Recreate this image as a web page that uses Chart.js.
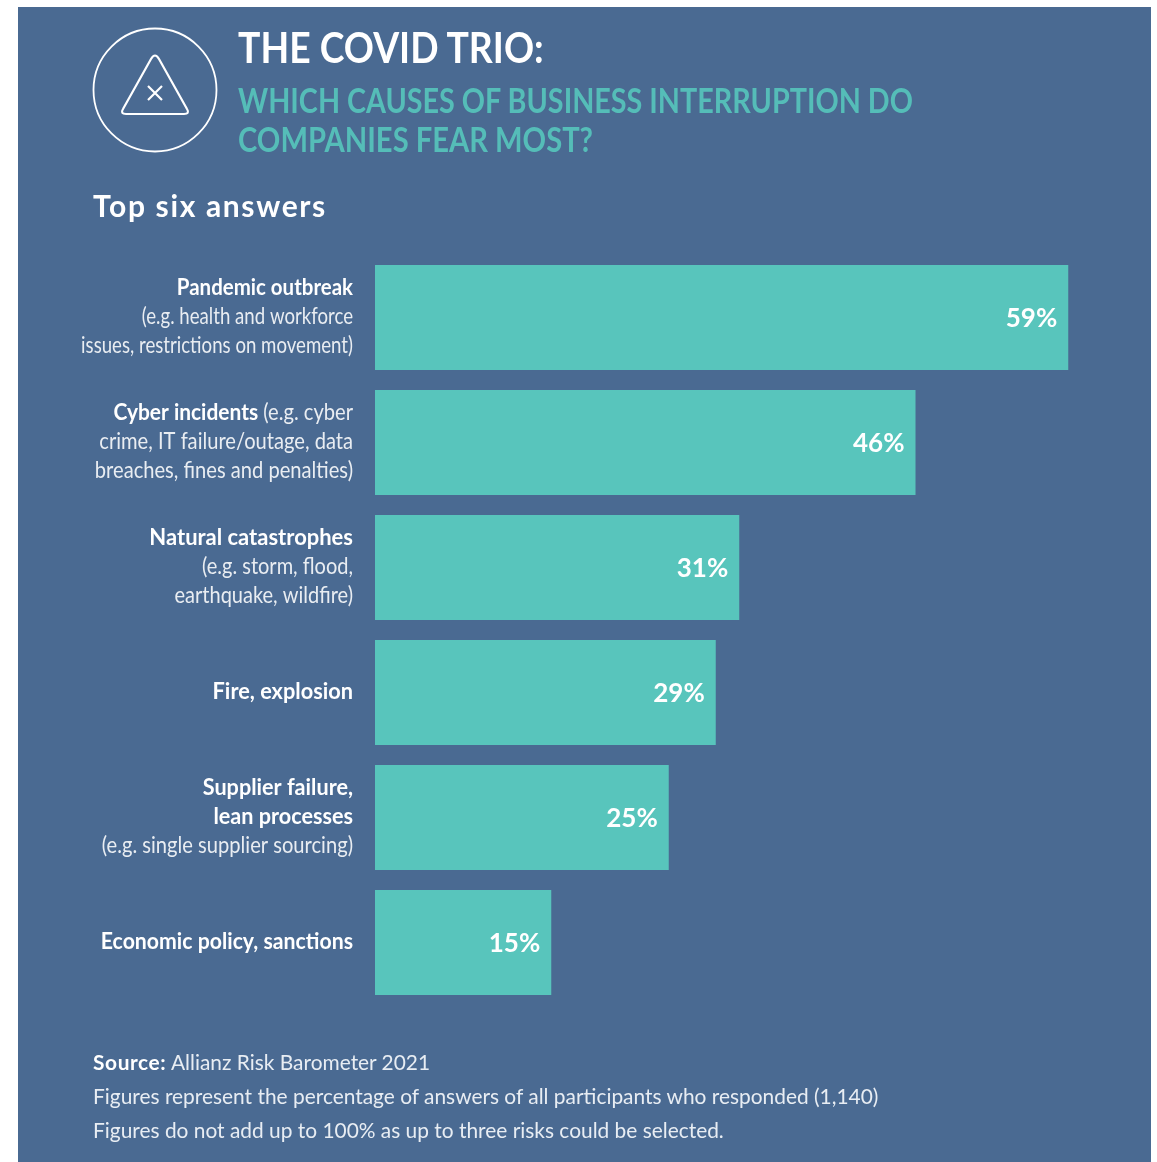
<!DOCTYPE html>
<html>
<head>
<meta charset="utf-8">
<script src="https://cdn.jsdelivr.net/npm/chart.js@4"></script>
<style>
  html, body { margin: 0; padding: 0; background: #fff; }
  #page { position: relative; width: 1157px; height: 1162px; overflow: hidden; font-family: Lato, sans-serif; }
  #panel { position: absolute; left: 18px; top: 7px; width: 1133px; height: 1155px; background: #4a6a92; }
  #barChart { position: absolute; left: 0; top: 0; }
  .txt { position: absolute; white-space: nowrap; transform-origin: left top; line-height: 1; }
  #title { left: 238px; top: 26px; font-size: 42px; font-weight: 700; color: #fff; transform: scaleX(.889); }
  .sub { left: 238px; font-size: 34.5px; font-weight: 700; color: #55bdb8; transform: scaleX(.833); }
  #topSix { left: 93px; top: 190px; font-size: 30px; font-weight: 700; color: #fff; letter-spacing: 1.65px; }
  .note { left: 93px; font-size: 20.9px; color: #e8edf3; }
  .note b { color: #fff; letter-spacing: .6px; }
  #icon { position: absolute; left: 92px; top: 27px; }
</style>
</head>
<body>
<div id="page">
  <div id="panel"></div>
  <canvas id="barChart" width="1157" height="1162"></canvas>

  <svg id="icon" width="126" height="126" viewBox="0 0 126 126" fill="none" stroke="#fff">
    <circle cx="63" cy="63" r="61.5" stroke-width="1.8"/>
    <path d="M59 32 Q63 25 67 32 L95 82 Q98 87 92 87 L34 87 Q28 87 31 82 Z" stroke-width="2.2" stroke-linejoin="round"/>
    <path d="M56 59 L70 73 M70 59 L56 73" stroke-width="2.2"/>
  </svg>
  <div class="txt" id="title">THE COVID TRIO:</div>
  <div class="txt sub" style="top:83px">WHICH CAUSES OF BUSINESS INTERRUPTION DO</div>
  <div class="txt sub" style="top:122px;transform:scaleX(.845)">COMPANIES FEAR MOST?</div>
  <div class="txt" id="topSix">Top six answers</div>
  <div class="txt note" style="top:1052px"><b>Source:</b> Allianz Risk Barometer 2021</div>
  <div class="txt note" style="top:1086px">Figures represent the percentage of answers of all participants who responded (1,140)</div>
  <div class="txt note" style="top:1120px">Figures do not add up to 100% as up to three risks could be selected.</div>
</div>

<script>
var categories = ['Pandemic outbreak', 'Cyber incidents', 'Natural catastrophes', 'Fire, explosion', 'Supplier failure, lean processes', 'Economic policy, sanctions'];
var percentages = [59, 46, 31, 29, 25, 15];

// each line is [bold part, regular part]
var labelLines = [
  [['Pandemic outbreak', ''], ['', '(e.g. health and workforce'], ['', 'issues, restrictions on movement)']],
  [['Cyber incidents', ' (e.g. cyber'], ['', 'crime, IT failure/outage, data'], ['', 'breaches, fines and penalties)']],
  [['Natural catastrophes', ''], ['', '(e.g. storm, flood,'], ['', 'earthquake, wildfire)']],
  [['Fire, explosion', '']],
  [['Supplier failure,', ''], ['lean processes', ''], ['', '(e.g. single supplier sourcing)']],
  [['Economic policy, sanctions', '']]
];

var BOLD_FONT = '700 23px Lato, sans-serif';
var REG_FONT = '400 23px Lato, sans-serif';
var LABEL_RIGHT = 353;
var LINE_HEIGHT = 28.7;
// horizontal squeeze per label, bold and regular runs set differently
var BOLD_SQUEEZE = [0.89, 0.91, 0.955, 0.945, 0.94, 0.924];
var REG_SQUEEZE = [0.81, 0.875, 0.87, 0.88, 0.875, 0.88];

// draws the multi-style category text left of the bars
var categoryLabels = {
  id: 'categoryLabels',
  afterDraw: function(chart) {
    var ctx = chart.ctx;
    var yScale = chart.scales.y;
    ctx.save();
    ctx.textBaseline = 'middle';
    ctx.textAlign = 'left';
    labelLines.forEach(function(lines, i) {
      var cy = yScale.getPixelForValue(i) - 1;
      lines.forEach(function(line, j) {
        var y = cy + (j - (lines.length - 1) / 2) * LINE_HEIGHT;
        ctx.font = REG_FONT;
        var regW = ctx.measureText(line[1]).width * REG_SQUEEZE[i];
        ctx.fillStyle = 'rgba(255,255,255,.88)';
        ctx.save();
        ctx.translate(LABEL_RIGHT - regW, y);
        ctx.scale(REG_SQUEEZE[i], 1);
        ctx.fillText(line[1], 0, 0);
        ctx.restore();

        ctx.font = BOLD_FONT;
        var boldW = ctx.measureText(line[0]).width * BOLD_SQUEEZE[i];
        ctx.fillStyle = '#fff';
        ctx.save();
        ctx.translate(LABEL_RIGHT - regW - boldW, y);
        ctx.scale(BOLD_SQUEEZE[i], 1);
        ctx.fillText(line[0], 0, 0);
        ctx.restore();
      });
    });
    ctx.restore();
  }
};

// percentage inside the end of each bar
var valueLabels = {
  id: 'valueLabels',
  afterDatasetsDraw: function(chart) {
    var ctx = chart.ctx;
    ctx.save();
    ctx.fillStyle = '#fff';
    ctx.font = '700 26px Lato, sans-serif';
    ctx.textAlign = 'right';
    ctx.textBaseline = 'middle';
    chart.getDatasetMeta(0).data.forEach(function(bar, i) {
      ctx.fillText(percentages[i] + '%', bar.x - 11, bar.y + 1);
    });
    ctx.restore();
  }
};

new Chart(document.getElementById('barChart').getContext('2d'), {
  type: 'bar',
  data: {
    labels: categories,
    datasets: [{
      data: percentages,
      backgroundColor: '#58c5bc',
      borderWidth: 0,
      barPercentage: 0.84,
      categoryPercentage: 1
    }]
  },
  options: {
    indexAxis: 'y',
    responsive: false,
    animation: false,
    layout: { padding: { left: 375, right: 77, top: 255, bottom: 157 } },
    scales: {
      x: { display: false, min: 0, max: 60 },
      y: { display: false }
    },
    plugins: {
      legend: { display: false },
      tooltip: { enabled: false }
    }
  },
  plugins: [categoryLabels, valueLabels]
});
</script>
</body>
</html>
